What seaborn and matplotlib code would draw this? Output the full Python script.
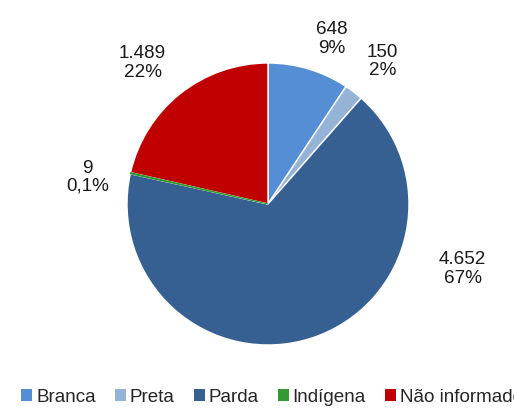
import matplotlib
matplotlib.use("Agg")
import matplotlib.pyplot as plt
import seaborn as sns
from matplotlib.patches import Patch

# data
categories = ['Branca', 'Preta', 'Parda', 'Indígena', 'Não informado']
counts = [648, 150, 4652, 9, 1489]
count_labels = ['648', '150', '4.652', '9', '1.489']
pct_labels = ['9%', '2%', '67%', '0,1%', '22%']
colors = ['#558ED5', '#95B3D7', '#376092', '#339933', '#C00000']

sns.set_theme(style='white')
plt.rcParams['font.family'] = ['Liberation Sans', 'DejaVu Sans']

W, H = 514, 408
fig = plt.figure(figsize=(W / 100, H / 100), dpi=100)

# pie centre (268, 204) px, radius 141 px
cx, cy, r = 268, 204, 141
ax = fig.add_axes([(cx - r) / W, (H - cy - r) / H, 2 * r / W, 2 * r / H])

wedges, _ = ax.pie(counts, colors=colors, startangle=90, counterclock=False,
                   radius=1, wedgeprops=dict(edgecolor='white', linewidth=1.0))
# the tiny slice would vanish under the white borders, keep it visible
wedges[3].set_edgecolor(colors[3])
wedges[3].set_linewidth(0.8)
wedges[3].set_zorder(5)
ax.set_xlim(-1, 1)
ax.set_ylim(-1, 1)
ax.set_aspect('equal')
ax.axis('off')

# label placement (data units, pie radius = 1)
label_pos = [(0.45, 1.17), (0.81, 1.01), (1.38, -0.46), (-1.28, 0.19), (-0.89, 1.00)]
for (x, y), c, p in zip(label_pos, count_labels, pct_labels):
    ax.text(x, y, f'{c}\n{p}', ha='center', va='center', fontsize=13.6,
            color='#1a1a1a', linespacing=1.1)

handles = [Patch(facecolor=col, edgecolor='none') for col in colors]
fig.legend(handles, categories, loc='center left', bbox_to_anchor=(21 / W, 11 / H),
           ncol=5, frameon=False, fontsize=13.6, handlelength=0.6, handleheight=0.6,
           handletextpad=0.2, columnspacing=1.0, borderaxespad=0, borderpad=0)

fig.savefig('out.png', dpi=100)
